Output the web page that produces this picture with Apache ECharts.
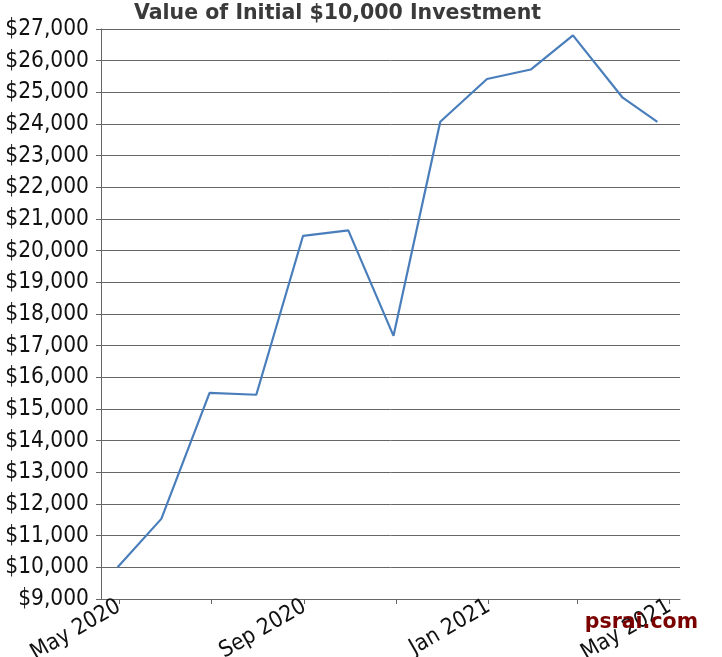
<!DOCTYPE html>
<html>
<head>
<meta charset="utf-8">
<script src="https://cdn.jsdelivr.net/npm/echarts@6/dist/echarts.min.js"></script>
<style>
html,body{margin:0;padding:0;background:#fff;}
#c{width:722px;height:657px;}
</style>
</head>
<body>
<div id="c"></div>
<script>
const titleText = 'Value of Initial $10,000 Investment';
const dates = ['2020-04-30','2020-05-29','2020-06-30','2020-07-31','2020-08-31','2020-09-30','2020-10-30','2020-11-30','2020-12-31','2021-01-29','2021-02-26','2021-03-31','2021-04-23'];
const values = [10000, 11530, 15510, 15450, 20470, 20640, 17310, 24070, 25420, 25720, 26800, 24830, 24070];
const tickDates = ['2020-05-01','2020-07-01','2020-09-01','2020-11-01','2021-01-01','2021-03-01','2021-05-01'];
const labelDates = ['2020-05-01','2020-09-01','2021-01-01','2021-05-01'];
const xRange = ['2020-04-19','2021-05-08'];
const yMin = 9000, yMax = 27000, yStep = 1000;
const monthNames = ['Jan','Feb','Mar','Apr','May','Jun','Jul','Aug','Sep','Oct','Nov','Dec'];

function ts(s){ const p = s.split('-').map(Number); return Date.UTC(p[0], p[1]-1, p[2]); }

const font = '"DejaVu Sans Condensed", "DejaVu Sans", sans-serif';
const gridColor = '#666666';

const chart = echarts.init(document.getElementById('c'));
chart.setOption({
  animation: false,
  title: {
    text: titleText,
    left: 134,
    top: 3,
    padding: 0,
    textStyle: { fontFamily: '"DejaVu Sans", sans-serif', fontWeight: 'bold', fontSize: 20.5, color: '#3a3a3a' }
  },
  grid: { left: 101, right: 42, top: 29, bottom: 58, containLabel: false, outerBoundsMode: 'none' },
  xAxis: {
    type: 'value',
    min: ts(xRange[0]),
    max: ts(xRange[1]),
    axisLine: { show: true, lineStyle: { color: gridColor, width: 1 } },
    axisTick: { show: true, length: 5, lineStyle: { color: gridColor }, customValues: tickDates.map(ts) },
    splitLine: { show: false },
    axisLabel: {
      customValues: labelDates.map(ts),
      rotate: 30,
      margin: 6,
      fontFamily: font,
      fontSize: 22.5,
      color: '#111',
      formatter: function (v) { const d = new Date(v); return monthNames[d.getUTCMonth()] + ' ' + d.getUTCFullYear(); }
    }
  },
  yAxis: {
    type: 'value',
    min: yMin, max: yMax, interval: yStep,
    axisLine: { show: true, lineStyle: { color: gridColor, width: 1 } },
    axisTick: { show: true, length: 5, lineStyle: { color: gridColor } },
    splitLine: { show: true, lineStyle: { color: gridColor, width: 1 } },
    axisLabel: {
      margin: 12,
      fontFamily: font,
      fontSize: 22.5,
      color: '#111',
      formatter: function (v) { return '$' + v.toLocaleString('en-US'); }
    }
  },
  series: [{
    type: 'line',
    data: dates.map((d, i) => [ts(d), values[i]]),
    showSymbol: false,
    symbol: 'none',
    lineStyle: { color: '#4a7ebb', width: 2.2 },
    itemStyle: { color: '#4a7ebb' }
  }],
  graphic: [{
    type: 'text',
    right: 24,
    top: 612,
    style: { text: 'psrai.com', fill: '#7a0000', font: 'bold 20.5px "DejaVu Sans", sans-serif' },
    z: 100
  }]
});
</script>
</body>
</html>
